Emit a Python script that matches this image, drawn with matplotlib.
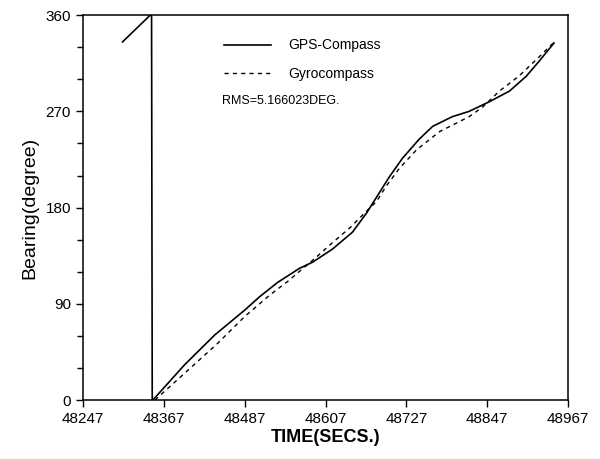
import matplotlib.pyplot as plt
from matplotlib.ticker import MultipleLocator
import numpy as np

plt.rcParams['font.family'] = ['Liberation Sans', 'DejaVu Sans']

# GPS-Compass: short segment before the 360 -> 0 wrap, then main track
gps_t = [48306, 48347, 48349, 48350, 48351, 48398, 48443, 48487, 48510, 48536,
         48568, 48588, 48617, 48647, 48668, 48687, 48702, 48721, 48746, 48766,
         48795, 48820, 48850, 48880, 48905, 48924, 48946]
gps_b = [335, 360, 360, 0, 0, 33, 61, 84, 97, 110,
         123, 129, 141, 157, 175, 194, 209, 226, 244, 256,
         265, 270, 279, 289, 303, 317, 334]

# Gyrocompass
gyro_t = [48354, 48398, 48447, 48487, 48524, 48551, 48594, 48617, 48643, 48662,
          48683, 48697, 48717, 48742, 48776, 48820, 48840, 48865, 48894, 48924,
          48948]
gyro_b = [0, 25, 53, 78, 98, 111, 134, 147, 161, 173,
          186, 200, 217, 234, 251, 265, 274, 289, 303, 321,
          336]

xticks = [48247, 48367, 48487, 48607, 48727, 48847, 48967]
yticks = [0, 90, 180, 270, 360]

fig = plt.figure(figsize=(6, 4.59), dpi=100)
ax = fig.add_axes([0.138, 0.1285, 0.809, 0.8385])

ax.plot(gps_t, gps_b, color='black', lw=1.2, label='GPS-Compass')
ax.plot(gyro_t, gyro_b, color='black', lw=1.0, ls=(0, (3, 3)), label='Gyrocompass')

ax.set_xlim(48247, 48967)
ax.set_ylim(0, 360)
ax.set_xticks(xticks)
ax.set_yticks(yticks)
ax.yaxis.set_minor_locator(MultipleLocator(30))
ax.tick_params(which='both', direction='out', labelsize=11, width=1)
ax.tick_params(which='major', length=5)
ax.tick_params(which='minor', length=4)
for s in ax.spines.values():
    s.set_linewidth(1.1)

ax.set_xlabel('TIME(SECS.)', fontsize=13, fontweight='bold', labelpad=2)
ax.set_ylabel('Bearing(degree)', fontsize=14, labelpad=5)

ax.legend(loc='upper left', bbox_to_anchor=(0.265, 0.972), frameon=False,
          fontsize=10, handlelength=3.4, handletextpad=1.2, labelspacing=1.05)
ax.text(0.287, 0.777, 'RMS=5.166023DEG.', transform=ax.transAxes,
        fontsize=9, va='center', ha='left')

fig.savefig('out.png', dpi=100)
